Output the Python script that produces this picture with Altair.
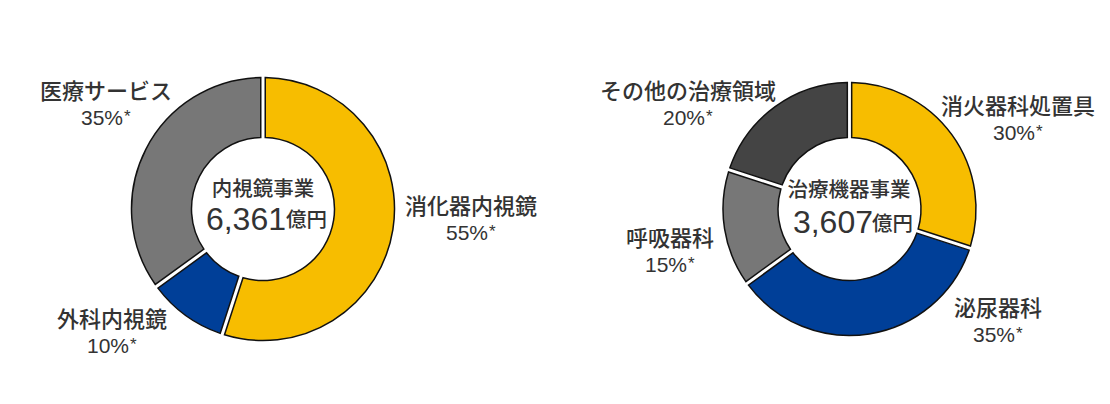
import altair as alt
import pandas as pd

# ---------------- data ----------------
left_title = "内視鏡事業"
left_total = "6,361"
left_cats = ["消化器内視鏡", "外科内視鏡", "医療サービス"]
left_vals = [55, 10, 35]

right_title = "治療機器事業"
right_total = "3,607"
right_cats = ["消火器科処置具", "泌尿器科", "呼吸器科", "その他の治療領域"]
right_vals = [30, 35, 15, 20]

unit = "億円"

# ---------------- styles / layout ----------------
left_colors = ["#F7BD00", "#003F98", "#777777"]
right_colors = ["#F7BD00", "#003F98", "#777777", "#444444"]
TEXT = "#333333"
CJK = "Noto Sans CJK JP"
LAT = "Liberation Sans"
CJK_W = 500
OFF = 8  # page margin

W, H = 1094, 388

color_scale = alt.Scale(domain=left_cats + right_cats, range=left_colors + right_colors)

left_df = pd.DataFrame({"category": left_cats, "value": left_vals})
right_df = pd.DataFrame({"category": right_cats, "value": right_vals})

# label block: (center x, name baseline y) in page coordinates
LAYOUT = {
    "消化器内視鏡": (471, 213.5),
    "外科内視鏡": (112, 326.5),
    "医療サービス": (106, 98.5),
    "消火器科処置具": (1018, 113.5),
    "泌尿器科": (998, 315.5),
    "呼吸器科": (670, 245.5),
    "その他の治療領域": (688, 98.5),
}


def donut(df, cx, cy, r_out, r_in):
    return (
        alt.Chart(df)
        .transform_window(idx="row_number()")
        .mark_arc(innerRadius=r_in, outerRadius=r_out, padAngle=0.03,
                  stroke="#111111", strokeWidth=1.5)
        .encode(
            x=alt.value(cx - OFF),
            y=alt.value(cy - OFF),
            theta=alt.Theta("value:Q", stack=True),
            color=alt.Color("category:N", scale=color_scale, legend=None),
            order=alt.Order("idx:Q"),
        )
    )


def labels(df, cats):
    layers = []
    for c in cats:
        x, y = LAYOUT[c]
        base = alt.Chart(df).transform_filter(alt.datum.category == c)
        layers.append(
            base.mark_text(font=CJK, fontSize=22, fontWeight=CJK_W, color=TEXT,
                           align="center", baseline="alphabetic")
            .encode(x=alt.value(x - OFF), y=alt.value(y - OFF), text="category:N")
        )
        layers.append(
            base.transform_calculate(pct="datum.value + '%'")
            .mark_text(font=LAT, fontSize=21, color=TEXT,
                       align="center", baseline="alphabetic", dx=-4)
            .encode(x=alt.value(x - OFF), y=alt.value(y + 26.5 - OFF), text="pct:N")
        )
        layers.append(
            base.mark_text(font=LAT, fontSize=17, color=TEXT,
                           align="left", baseline="alphabetic", dx=18)
            .encode(x=alt.value(x - OFF), y=alt.value(y + 23 - OFF), text=alt.value("*"))
        )
    return layers


one = pd.DataFrame({"k": [0]})


def txt(t, x, y, size, font, align="center", weight="normal"):
    return (
        alt.Chart(one)
        .mark_text(font=font, fontSize=size, fontWeight=weight, color=TEXT,
                   align=align, baseline="alphabetic")
        .encode(x=alt.value(x - OFF), y=alt.value(y - OFF), text=alt.value(t))
    )


centers = [
    txt(left_title, 263, 195.5, 20.5, CJK, weight=CJK_W),
    txt(left_total, 286, 230, 32, LAT, align="right"),
    txt(unit, 286, 227, 20.5, CJK, align="left", weight=CJK_W),
    txt(right_title, 849, 196.5, 20.5, CJK, weight=CJK_W),
    txt(right_total, 873, 233, 32, LAT, align="right"),
    txt(unit, 872, 230.5, 20.5, CJK, align="left", weight=CJK_W),
]

chart = (
    alt.layer(
        donut(left_df, 263, 209, 131.5, 71.5),
        donut(right_df, 849.5, 209, 126.5, 71.5),
        *labels(left_df, left_cats),
        *labels(right_df, right_cats),
        *centers,
    )
    .properties(width=W, height=H, padding=0, autosize="none", background="white")
    .configure_view(stroke=None)
)

chart.save("out.html", embed_options={"renderer": "svg", "actions": False})
